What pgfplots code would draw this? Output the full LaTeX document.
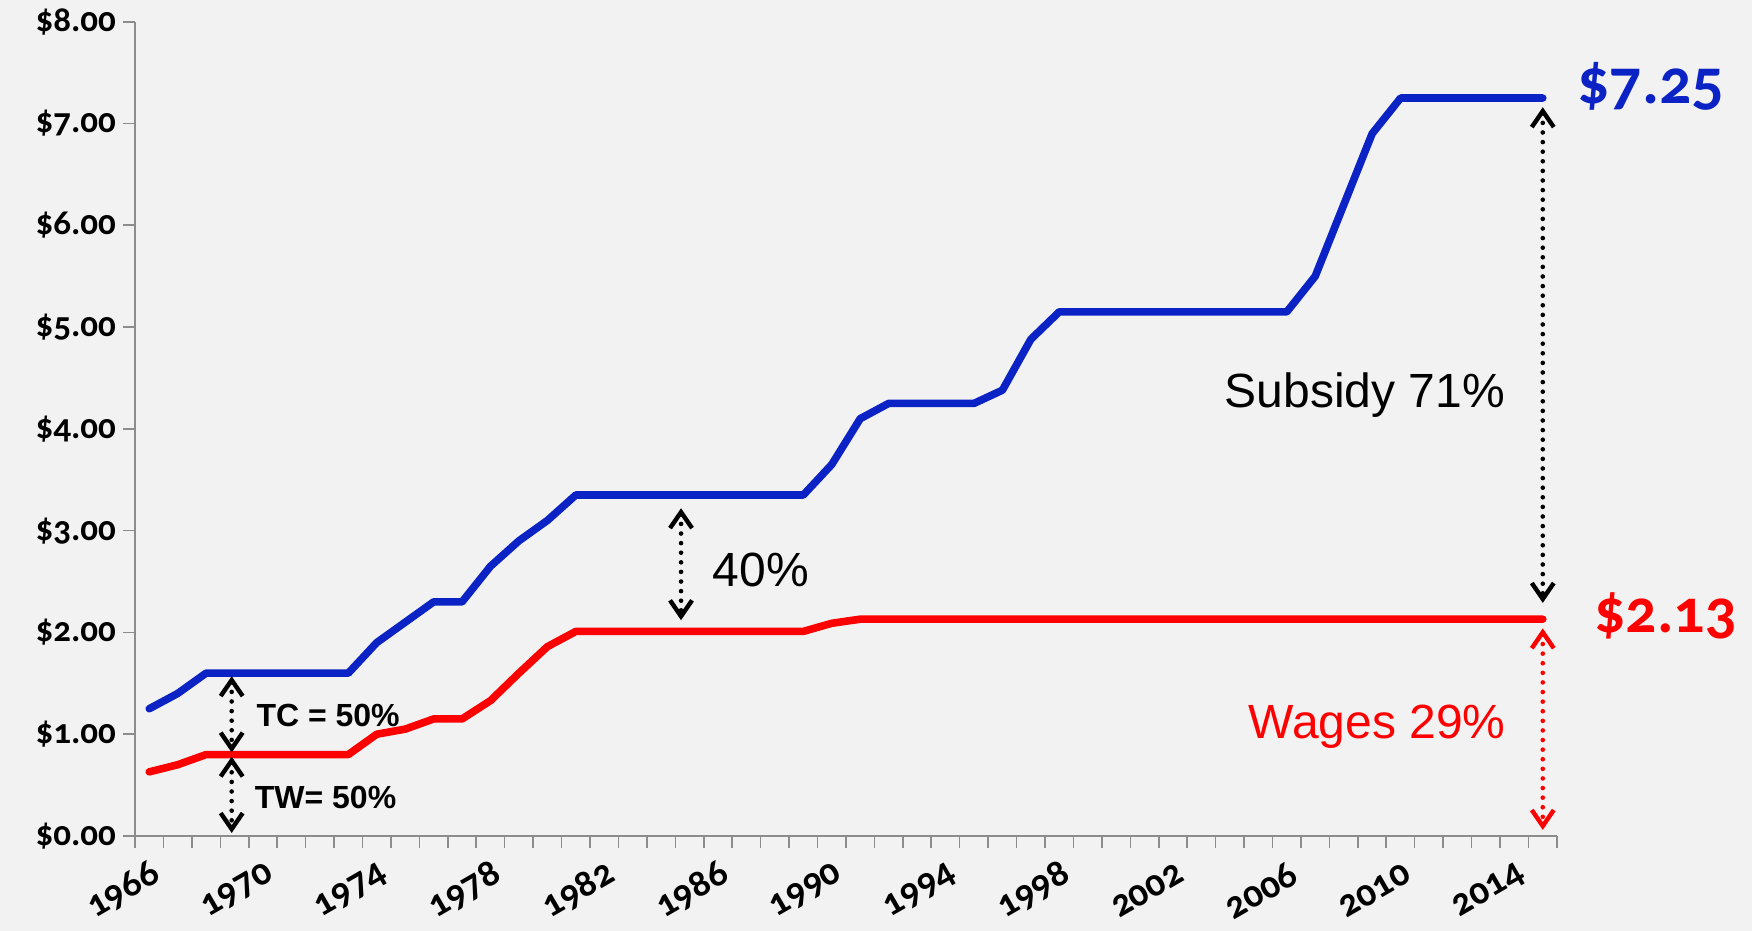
\documentclass[border=0pt]{standalone}
\usepackage{fontspec}
\usepackage{pgfplots}
\pgfplotsset{compat=1.18}
\usetikzlibrary{arrows.meta}
\setmainfont{Liberation Sans}
\newfontfamily\tickfont{Carlito}[Numbers=OldStyle]
\definecolor{bg}{HTML}{F2F2F2}
\definecolor{axisgray}{HTML}{8C8C8C}
\definecolor{mwblue}{HTML}{0B22C4}
\definecolor{mwred}{HTML}{FF0000}
\begin{document}
\begin{tikzpicture}[
  darr/.style={line width=2.3bp, dash pattern=on 0pt off 4.8bp, line cap=round,
    {Straight Barb[length=8bp,width=11bp,line width=2.2bp]}-{Straight Barb[length=8bp,width=11bp,line width=2.2bp]}}]
\fill[bg] (-67.5bp,-47.5bp) rectangle (808.5bp,418bp);
\begin{axis}[
  scale only axis, width=711bp, height=407.15bp,
  at={(0,0)}, anchor=south west,
  xmin=1965.5, xmax=2015.5, ymin=0, ymax=8,
  axis x line*=bottom, axis y line*=left,
  axis line style={draw=axisgray, line width=0.8bp},
  every tick/.style={draw=axisgray, line width=0.8bp},
  tick align=outside, major tick length=6bp, minor tick length=6bp,
  xtick={1966,1970,1974,1978,1982,1986,1990,1994,1998,2002,2006,2010,2014},
  xticklabels={1966,1970,1974,1978,1982,1986,1990,1994,1998,2002,2006,2010,2014},
  minor xtick={1965.5,1966.5,...,2015.5},
  every major x tick/.append style={draw=none},
  xticklabel style={font=\tickfont\bfseries\fontsize{19bp}{22bp}\selectfont, rotate=30, anchor=east, yshift=-12bp, xshift=1bp},
  ytick={0,1,...,8},
  yticklabels={\$0.00,\$1.00,\$2.00,\$3.00,\$4.00,\$5.00,\$6.00,\$7.00,\$8.00},
  yticklabel style={font=\tickfont\bfseries\fontsize{17.5bp}{20bp}\selectfont, anchor=east},
  clip=false,
]
\addplot[mwblue, line width=3.8bp, line join=round, line cap=round] table {
x y
1966 1.25
1967 1.40
1968 1.60
1969 1.60
1970 1.60
1971 1.60
1972 1.60
1973 1.60
1974 1.90
1975 2.10
1976 2.30
1977 2.30
1978 2.65
1979 2.90
1980 3.10
1981 3.35
1982 3.35
1983 3.35
1984 3.35
1985 3.35
1986 3.35
1987 3.35
1988 3.35
1989 3.35
1990 3.65
1991 4.10
1992 4.25
1993 4.25
1994 4.25
1995 4.25
1996 4.38
1997 4.88
1998 5.15
1999 5.15
2000 5.15
2001 5.15
2002 5.15
2003 5.15
2004 5.15
2005 5.15
2006 5.15
2007 5.50
2008 6.20
2009 6.90
2010 7.25
2011 7.25
2012 7.25
2013 7.25
2014 7.25
2015 7.25
};
\addplot[mwred, line width=3.8bp, line join=round, line cap=round] table {
x y
1966 0.63
1967 0.70
1968 0.80
1969 0.80
1970 0.80
1971 0.80
1972 0.80
1973 0.80
1974 1.00
1975 1.05
1976 1.15
1977 1.15
1978 1.33
1979 1.60
1980 1.86
1981 2.01
1982 2.01
1983 2.01
1984 2.01
1985 2.01
1986 2.01
1987 2.01
1988 2.01
1989 2.01
1990 2.09
1991 2.13
1992 2.13
1993 2.13
1994 2.13
1995 2.13
1996 2.13
1997 2.13
1998 2.13
1999 2.13
2000 2.13
2001 2.13
2002 2.13
2003 2.13
2004 2.13
2005 2.13
2006 2.13
2007 2.13
2008 2.13
2009 2.13
2010 2.13
2011 2.13
2012 2.13
2013 2.13
2014 2.13
2015 2.13
};
\draw[darr] (axis cs:1968.9,1.57) -- (axis cs:1968.9,0.82);
\draw[darr] (axis cs:1968.9,0.78) -- (axis cs:1968.9,0.03);
\draw[darr] (axis cs:1984.7,3.22) -- (axis cs:1984.7,2.12);
\draw[darr] (axis cs:2015,7.16) -- (axis cs:2015,2.29);
\draw[darr, mwred] (axis cs:2015,2.04) -- (axis cs:2015,0.06);
\node[font=\fontsize{24bp}{28bp}\selectfont] at (axis cs:2008.75,4.33) {Subsidy 71\%};
\node[font=\fontsize{24bp}{28bp}\selectfont] at (axis cs:1987.5,2.61) {40\%};
\node[font=\fontsize{24bp}{28bp}\selectfont, text=mwred] at (axis cs:2009.17,1.07) {Wages 29\%};
\node[font=\bfseries\fontsize{16bp}{19bp}\selectfont] at (axis cs:1972.29,1.18) {TC = 50\%};
\node[font=\bfseries\fontsize{16bp}{19bp}\selectfont] at (axis cs:1972.2,0.38) {TW= 50\%};
\node[font=\tickfont\bfseries\fontsize{32bp}{36bp}\selectfont, text=mwblue, anchor=base west, inner sep=0pt] at (axis cs:2016.2,7.20) {\$7.25};
\node[font=\tickfont\bfseries\fontsize{31bp}{35bp}\selectfont, text=mwred, anchor=base west, inner sep=0pt] at (axis cs:2016.8,2.00) {\$2.13};
\end{axis}
\pgfresetboundingbox
\path (-67.5bp,-47.5bp) rectangle (808.5bp,418bp);
\end{tikzpicture}
\end{document}
